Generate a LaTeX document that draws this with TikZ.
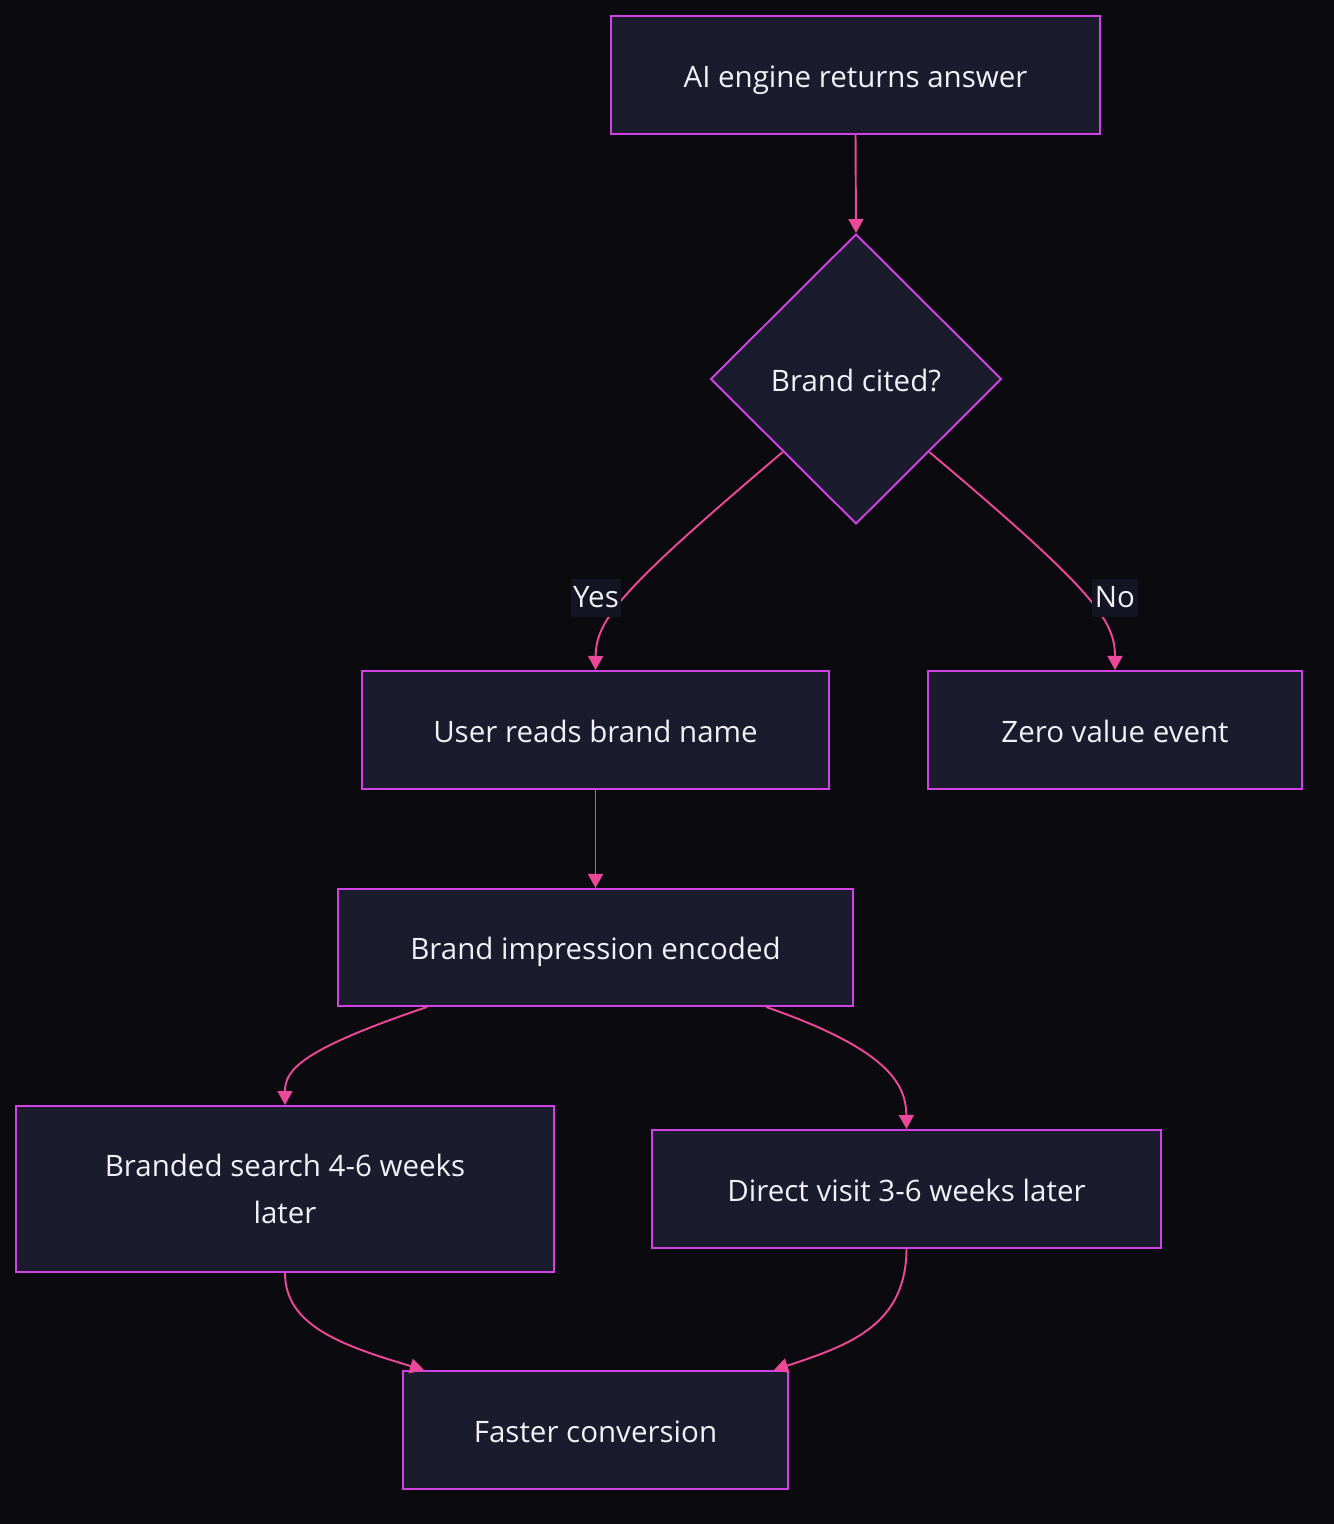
\documentclass[tikz,border=0pt]{standalone}
\usepackage{fontspec}
\setmainfont{Open Sans}
\usepackage{tikz}
\usetikzlibrary{arrows.meta,shapes.geometric}

\definecolor{pagebg}{RGB}{10,10,15}
\definecolor{boxfill}{RGB}{27,27,46}
\definecolor{boxline}{RGB}{208,66,228}
\definecolor{edgepink}{RGB}{236,72,153}
\definecolor{lblbg}{RGB}{20,20,34}
\definecolor{txt}{RGB}{240,240,245}

\begin{document}
\begin{tikzpicture}[
  x=0.02cm, y=-0.02cm,
  tallbox/.style={draw=boxline, fill=boxfill, line width=1.1pt, rectangle, minimum height=2.36cm, text=txt, font=\fontsize{16.8}{27.2}\selectfont, align=center},
  box/.style={tallbox, text height=17pt, text depth=3pt},
  decision/.style={draw=boxline, fill=boxfill, line width=1.1pt, diamond, inner sep=0pt, minimum width=5.82cm, minimum height=5.8cm, text=txt, font=\fontsize{16.8}{27.2}\selectfont, text height=17pt, text depth=3pt},
  lbl/.style={fill=lblbg, text=txt, inner sep=1.5pt, font=\fontsize{16.8}{20}\selectfont, text height=15pt, text depth=4pt},
  arrow/.style={-{Triangle[length=8pt,width=8.5pt]}, edgepink, line width=1.1pt}
]
% Background and page size
\fill[pagebg] (0,0) rectangle (1334,1524);
\useasboundingbox (0,0) rectangle (1334,1524);

% Draw nodes
\node[box, minimum width=9.78cm] (engine) at (855.5, 75) {AI engine returns answer};
\node[decision] (cited) at (856, 379) {Brand cited?};
\node[box, minimum width=9.34cm] (reads) at (595.5, 730) {User reads brand name};
\node[box, minimum width=7.48cm] (zero) at (1115, 730) {Zero value event};
\node[box, minimum width=10.3cm, minimum height=2.34cm] (impression) at (595.5, 947.5) {Brand impression encoded};
\node[tallbox, minimum width=10.76cm, minimum height=3.32cm] (search) at (285, 1189) {Branded search 4-6 weeks\\later};
\node[box, minimum width=10.18cm] (visit) at (906.5, 1189) {Direct visit 3-6 weeks later};
\node[box, minimum width=7.7cm] (faster) at (595.5, 1430) {Faster conversion};

% Arrows between nodes
\draw[arrow] (engine.south) -- (cited.north);
\draw[arrow] (cited.south west) .. controls (620,590) and (596,620) .. (reads.north);
\draw[arrow] (cited.south east) .. controls (1093,590) and (1115,620) .. (zero.north);
\draw[arrow] (reads.south) -- (impression.north);
\draw[arrow] ([xshift=1.8cm]impression.south west) .. controls (300,1050) and (285,1070) .. (search.north);
\draw[arrow] ([xshift=-1.76cm]impression.south east) .. controls (890,1050) and (906,1085) .. (visit.north);
\draw[arrow] (search.south) .. controls (285,1325) and (340,1345) .. ([xshift=0.44cm]faster.north west);
\draw[arrow] (visit.south) .. controls (906,1325) and (850,1345) .. ([xshift=-0.3cm]faster.north east);

% Edge labels
\node[lbl] (yes) at (596, 598) {Yes};
\node[lbl] (no) at (1115, 598) {No};

\end{tikzpicture}
\end{document}
